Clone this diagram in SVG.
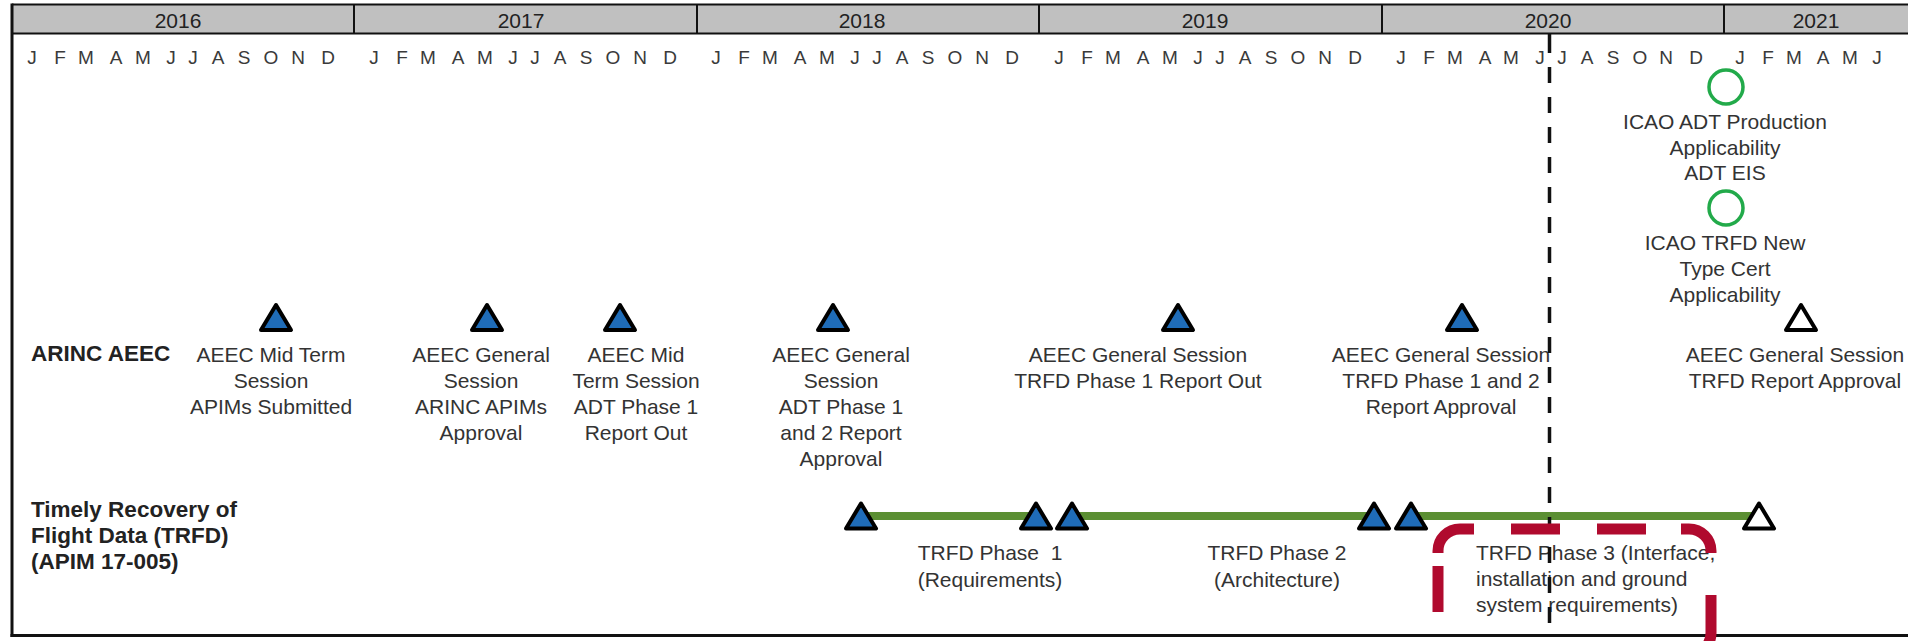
<svg xmlns="http://www.w3.org/2000/svg" width="1908" height="641" viewBox="0 0 1908 641">
<style>
  .yr{font-family:"Liberation Sans",Arial,sans-serif;font-size:21px;fill:#222;text-anchor:middle}
  .mo{font-family:"Liberation Sans",Arial,sans-serif;font-size:19px;fill:#3a3a3a;text-anchor:middle}
  .lb{font-family:"Liberation Sans",Arial,sans-serif;font-size:21px;fill:#333;text-anchor:middle}
  .ls{font-family:"Liberation Sans",Arial,sans-serif;font-size:21px;fill:#333}
  .rw{font-family:"Liberation Sans",Arial,sans-serif;font-size:22.5px;font-weight:bold;fill:#222}
  .tb{fill:#1f6cb8;stroke:#000;stroke-width:4;stroke-linejoin:round}
  .tw{fill:#fff;stroke:#000;stroke-width:4;stroke-linejoin:round}
  .ci{fill:none;stroke:#22aa4a;stroke-width:3.5}
  .bar{stroke:#5b8f33;stroke-width:8;fill:none}
</style>
<defs>
  <path id="tri" d="M0,-12.5 L15,12.5 L-15,12.5 Z"/>
</defs>
<rect x="0" y="0" width="1908" height="641" fill="#fff"/>

<g id="header">
  <rect x="12" y="4.5" width="1896" height="29" fill="#c0c0c0"/>
  <line x1="12" y1="4.5" x2="1908" y2="4.5" stroke="#111" stroke-width="2"/>
  <line x1="12" y1="33.5" x2="1908" y2="33.5" stroke="#111" stroke-width="2"/>
  <g stroke="#111" stroke-width="2">
    <line x1="354" y1="4" x2="354" y2="34"/>
    <line x1="697" y1="4" x2="697" y2="34"/>
    <line x1="1039" y1="4" x2="1039" y2="34"/>
    <line x1="1382" y1="4" x2="1382" y2="34"/>
    <line x1="1724" y1="4" x2="1724" y2="34"/>
  </g>
  <text class="yr" x="178" y="28">2016</text>
  <text class="yr" x="521" y="28">2017</text>
  <text class="yr" x="862" y="28">2018</text>
  <text class="yr" x="1205" y="28">2019</text>
  <text class="yr" x="1548" y="28">2020</text>
  <text class="yr" x="1816" y="28">2021</text>
  <text class="mo" y="64" x="32 60 86 116 143 171 193 218 244 271 298 328">JFMAMJJASOND</text>
  <text class="mo" y="64" x="374 402 428 458 485 513 535 560 586 613 640 670">JFMAMJJASOND</text>
  <text class="mo" y="64" x="716 744 770 800 827 855 877 902 928 955 982 1012">JFMAMJJASOND</text>
  <text class="mo" y="64" x="1059 1087 1113 1143 1170 1198 1220 1245 1271 1298 1325 1355">JFMAMJJASOND</text>
  <text class="mo" y="64" x="1401 1429 1455 1485 1511 1540 1562 1587 1613 1640 1666 1696">JFMAMJJASOND</text>
  <text class="mo" y="64" x="1740 1768 1794 1823 1850 1877">JFMAMJ</text>
</g>

<g id="frame" stroke="#111" stroke-width="3" fill="none">
  <line x1="12" y1="3.5" x2="12" y2="637"/>
  <line x1="10.5" y1="635.5" x2="1908" y2="635.5"/>
</g>

<g id="row-labels">
  <text class="rw" x="31" y="361">ARINC AEEC</text>
  <text class="rw" x="31" y="517">Timely Recovery of</text>
  <text class="rw" x="31" y="543">Flight Data (TRFD)</text>
  <text class="rw" x="31" y="569">(APIM 17-005)</text>
</g>

<g id="connectors">
  <line class="bar" x1="861" y1="516" x2="1036" y2="516"/>
  <line class="bar" x1="1072" y1="516" x2="1374" y2="516"/>
  <line class="bar" x1="1411" y1="516" x2="1759" y2="516"/>
</g>

<g id="aeec-midterm-2016">
  <use href="#tri" class="tb" x="276" y="317.5"/>
  <text class="lb" x="271" y="362">AEEC Mid Term</text>
  <text class="lb" x="271" y="388">Session</text>
  <text class="lb" x="271" y="414">APIMs Submitted</text>
</g>
<g id="aeec-general-2017">
  <use href="#tri" class="tb" x="487" y="317.5"/>
  <text class="lb" x="481" y="362">AEEC General</text>
  <text class="lb" x="481" y="388">Session</text>
  <text class="lb" x="481" y="414">ARINC APIMs</text>
  <text class="lb" x="481" y="440">Approval</text>
</g>
<g id="aeec-midterm-2017">
  <use href="#tri" class="tb" x="620" y="317.5"/>
  <text class="lb" x="636" y="362">AEEC Mid</text>
  <text class="lb" x="636" y="388">Term Session</text>
  <text class="lb" x="636" y="414">ADT Phase 1</text>
  <text class="lb" x="636" y="440">Report Out</text>
</g>
<g id="aeec-general-2018">
  <use href="#tri" class="tb" x="833" y="317.5"/>
  <text class="lb" x="841" y="362">AEEC General</text>
  <text class="lb" x="841" y="388">Session</text>
  <text class="lb" x="841" y="414">ADT Phase 1</text>
  <text class="lb" x="841" y="440">and 2 Report</text>
  <text class="lb" x="841" y="466">Approval</text>
</g>
<g id="aeec-general-2019">
  <use href="#tri" class="tb" x="1178" y="317.5"/>
  <text class="lb" x="1138" y="362">AEEC General Session</text>
  <text class="lb" x="1138" y="388">TRFD Phase 1 Report Out</text>
</g>
<g id="aeec-general-2020">
  <use href="#tri" class="tb" x="1462" y="317.5"/>
  <text class="lb" x="1441" y="362">AEEC General Session</text>
  <text class="lb" x="1441" y="388">TRFD Phase 1 and 2</text>
  <text class="lb" x="1441" y="414">Report Approval</text>
</g>
<g id="aeec-general-2021">
  <use href="#tri" class="tw" x="1801" y="317.5"/>
  <text class="lb" x="1795" y="362">AEEC General Session</text>
  <text class="lb" x="1795" y="388">TRFD Report Approval</text>
</g>
<g id="icao-adt">
  <circle class="ci" cx="1726" cy="87" r="17"/>
  <text class="lb" x="1725" y="129">ICAO ADT Production</text>
  <text class="lb" x="1725" y="155">Applicability</text>
  <text class="lb" x="1725" y="180">ADT EIS</text>
</g>
<g id="icao-trfd">
  <circle class="ci" cx="1726" cy="208" r="17"/>
  <text class="lb" x="1725" y="250">ICAO TRFD New</text>
  <text class="lb" x="1725" y="276">Type Cert</text>
  <text class="lb" x="1725" y="302">Applicability</text>
</g>

<g id="trfd-phase1">
  <use href="#tri" class="tb" x="861" y="516"/>
  <use href="#tri" class="tb" x="1036" y="516"/>
  <text class="lb" x="990" y="560" xml:space="preserve">TRFD Phase  1</text>
  <text class="lb" x="990" y="587">(Requirements)</text>
</g>
<g id="trfd-phase2">
  <use href="#tri" class="tb" x="1072" y="516"/>
  <use href="#tri" class="tb" x="1374" y="516"/>
  <text class="lb" x="1277" y="560">TRFD Phase 2</text>
  <text class="lb" x="1277" y="587">(Architecture)</text>
</g>
<g id="trfd-phase3">
  <use href="#tri" class="tb" x="1411" y="516"/>
  <use href="#tri" class="tw" x="1759" y="516"/>
  <text class="ls" x="1476" y="560">TRFD Phase 3 (Interface,</text>
  <text class="ls" x="1476" y="586">installation and ground</text>
  <text class="ls" x="1476" y="612">system requirements)</text>
</g>

<g id="today-line" stroke="#111" stroke-width="3.5" fill="none">
  <line x1="1549.5" y1="33" x2="1549.5" y2="53"/>
  <line x1="1549.5" y1="67" x2="1549.5" y2="636" stroke-dasharray="16 14"/>
</g>

<g id="highlight" stroke="#b00a2e" stroke-width="11" fill="none">
  <path d="M1438,553 V551 A22,22 0 0 1 1460,529 H1474 M1511,529 H1560 M1597,529 H1646 M1681,529 H1689 A22,22 0 0 1 1711,551 V553 M1711,595 V633 A22,22 0 0 1 1689,655 M1438,566 V612"/>
</g>
</svg>
